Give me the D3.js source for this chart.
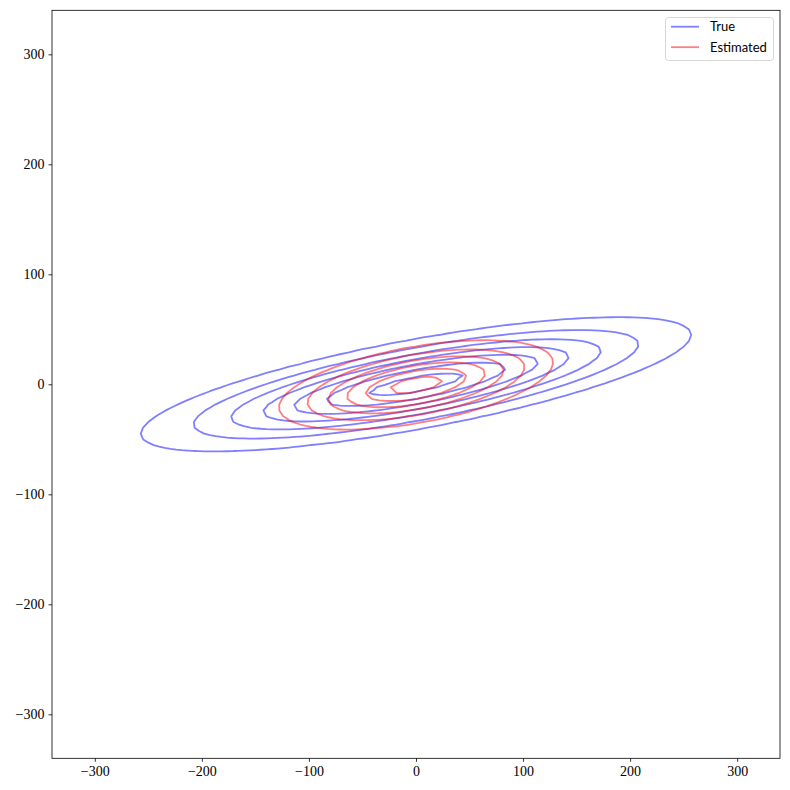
<!DOCTYPE html>
<html>
<head>
<meta charset="utf-8">
<script src="https://cdn.jsdelivr.net/npm/d3@7"></script>
<style>
  html, body { margin: 0; padding: 0; background: #fff; }
  svg { display: block; }
  .tick text { font-family: "Liberation Serif", "DejaVu Serif", serif; font-size: 14px; fill: #000; }
  .legend text { font-family: Lato, "DejaVu Sans", sans-serif; font-size: 13px; fill: #000; }
</style>
</head>
<body>
<svg id="chart" width="790" height="790"></svg>
<script>
// ---- data ----
const xDomain = [-340, 340];
const yDomain = [-340, 340];
const xTicks = [-300, -200, -100, 0, 100, 200, 300];
const yTicks = [-300, -200, -100, 0, 100, 200, 300];

// "True" distribution: mean, covariance, contour levels (density)
const trueMean = [0, 0];
const trueCov = [[16480, 2885], [2885, 928]];
const trueLevels = [8.12e-6, 1.625e-5, 2.437e-5, 3.25e-5, 4.062e-5, 4.874e-5, 5.687e-5];

// "Estimated" distribution
const estMean = [0, -0.5];
const estCov = [[4407, 706], [706, 441]];
const estLevels = [2.062e-5, 4.124e-5, 6.186e-5, 8.248e-5, 1.031e-4, 1.237e-4];

const seriesNames = ["True", "Estimated"];
const seriesColors = ["rgba(0,0,255,0.5)", "rgba(255,0,0,0.5)"];

// grid used to sample the densities
const gridN = 130;

// ---- layout ----
const mLeft = 52, mRight = 780, mTop = 10.3, mBottom = 758.3;
const svg = d3.select("#chart");

const x = d3.scaleLinear().domain(xDomain).range([mLeft, mRight]);
const y = d3.scaleLinear().domain(yDomain).range([mBottom, mTop]);

svg.append("defs").append("clipPath").attr("id", "clip")
  .append("rect").attr("x", mLeft).attr("y", mTop).attr("width", mRight - mLeft).attr("height", mBottom - mTop);

function density(mean, cov) {
  const det = cov[0][0] * cov[1][1] - cov[0][1] * cov[1][0];
  const inv = [[cov[1][1] / det, -cov[0][1] / det], [-cov[1][0] / det, cov[0][0] / det]];
  const norm = 1 / (2 * Math.PI * Math.sqrt(det));
  return (px, py) => {
    const dx = px - mean[0], dy = py - mean[1];
    const q = dx * (inv[0][0] * dx + inv[0][1] * dy) + dy * (inv[1][0] * dx + inv[1][1] * dy);
    return norm * Math.exp(-0.5 * q);
  };
}

// grid coordinate (d3.contours: sample i sits at coordinate i + 0.5) -> data value
const gx = d3.scaleLinear().domain([0.5, gridN - 0.5]).range(xDomain);
const gy = d3.scaleLinear().domain([0.5, gridN - 0.5]).range(yDomain);

function gridValues(f) {
  const vals = new Array(gridN * gridN);
  for (let j = 0; j < gridN; j++) {
    for (let i = 0; i < gridN; i++) {
      vals[j * gridN + i] = f(gx(i + 0.5), gy(j + 0.5));
    }
  }
  return vals;
}

const projection = d3.geoTransform({
  point: function (px, py) { this.stream.point(x(gx(px)), y(gy(py))); }
});
const path = d3.geoPath(projection);

const plot = svg.append("g").attr("clip-path", "url(#clip)");

[[trueMean, trueCov, trueLevels], [estMean, estCov, estLevels]].forEach(([m, c, lv], k) => {
  const vals = gridValues(density(m, c));
  const contours = d3.contours().size([gridN, gridN]).thresholds(lv)(vals);
  plot.append("g").selectAll("path").data(contours).join("path")
    .attr("d", path)
    .attr("fill", "none")
    .attr("stroke", seriesColors[k])
    .attr("stroke-width", 1.8)
    .attr("stroke-linejoin", "round");
});

// axes
const fmt = d => (d < 0 ? "\u2212" + Math.abs(d) : String(d));
const xAxis = svg.append("g").attr("transform", `translate(0,${mBottom})`)
  .call(d3.axisBottom(x).tickValues(xTicks).tickFormat(fmt).tickSizeOuter(0).tickSize(3.5).tickPadding(4));
const yAxis = svg.append("g").attr("transform", `translate(${mLeft},0)`)
  .call(d3.axisLeft(y).tickValues(yTicks).tickFormat(fmt).tickSizeOuter(0).tickSize(3.5).tickPadding(4));
[xAxis, yAxis].forEach(a => {
  a.select(".domain").remove();
  a.selectAll(".tick line").attr("stroke", "#000").attr("stroke-width", 0.8);
});

// frame
svg.append("rect").attr("x", mLeft).attr("y", mTop).attr("width", mRight - mLeft).attr("height", mBottom - mTop)
  .attr("fill", "none").attr("stroke", "#000").attr("stroke-width", 0.8);

// legend
const lg = svg.append("g").attr("class", "legend");
lg.append("rect").attr("x", 665.5).attr("y", 17.5).attr("width", 108).attr("height", 43)
  .attr("rx", 3).attr("fill", "rgba(255,255,255,0.8)").attr("stroke", "#cccccc").attr("stroke-width", 0.8);
seriesNames.forEach((name, i) => {
  const yy = 26.7 + i * 20.5;
  lg.append("line").attr("x1", 671).attr("x2", 699).attr("y1", yy).attr("y2", yy)
    .attr("stroke", seriesColors[i]).attr("stroke-width", 1.8);
  lg.append("text").attr("x", 710).attr("y", yy).attr("dy", "0.35em").text(name);
});
</script>
</body>
</html>
